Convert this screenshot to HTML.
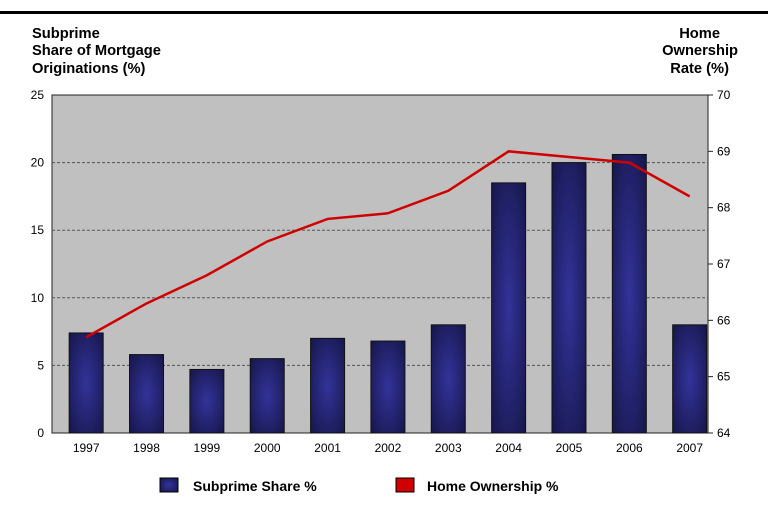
<!DOCTYPE html>
<html><head><meta charset="utf-8"><style>
body{margin:0;background:#fff;width:768px;height:512px;overflow:hidden;font-family:"Liberation Sans",Arial,sans-serif}
</style></head><body>
<svg id="c" width="768" height="512" xmlns="http://www.w3.org/2000/svg" font-family="Liberation Sans, Arial, sans-serif">
<defs>
<radialGradient id="bg" cx="50%" cy="50%" r="70%">
<stop offset="0%" stop-color="#33339a"/><stop offset="100%" stop-color="#16164a"/>
</radialGradient>
</defs>
<rect x="0" y="11" width="768" height="3" fill="#000"/>
<g font-weight="bold" font-size="14.7" fill="#000">
<text x="32" y="38">Subprime</text>
<text x="32" y="55">Share of Mortgage</text>
<text x="32" y="73">Originations (%)</text>
<text x="720" y="38" text-anchor="end">Home</text>
<text x="738" y="55" text-anchor="end">Ownership</text>
<text x="729" y="73" text-anchor="end">Rate (%)</text>
</g>
<rect x="52" y="95" width="656" height="338" fill="#c0c0c0" stroke="#222" stroke-width="1"/>
<g id="grid"></g><g id="bars"></g><g id="line"></g><g id="ticks" font-size="12" fill="#000"></g>
<rect x="160" y="478" width="18" height="14" fill="url(#bg)" stroke="#000"/>
<text x="193" y="491" font-size="14" font-weight="bold">Subprime Share %</text>
<rect x="396" y="478" width="18" height="14" fill="#d00000" stroke="#000"/>
<text x="427" y="491" font-size="14" font-weight="bold">Home Ownership %</text>
</svg>
<script>
const years=["1997","1998","1999","2000","2001","2002","2003","2004","2005","2006","2007"];
const subprime=[7.4,5.8,4.7,5.5,7.0,6.8,8.0,18.5,20.0,20.6,8.0];
const ownership=[65.7,66.3,66.8,67.4,67.8,67.9,68.3,69.0,68.9,68.8,68.2];
const leftTicks=[0,5,10,15,20,25];
const rightTicks=[64,65,66,67,68,69,70];
const NS="http://www.w3.org/2000/svg";
const yTop=95,yBot=433;
const yL=v=>yBot-(v/25)*(yBot-yTop);
const yR=v=>yBot-((v-64)/6)*(yBot-yTop);
const xC=i=>56+60.35*(i+0.5);
function mk(t,a,p){const e=document.createElementNS(NS,t);for(const k in a)e.setAttribute(k,a[k]);document.getElementById(p).appendChild(e);return e;}
leftTicks.forEach(v=>{
 if(v>0&&v<25){const g=mk('line',{x1:52,x2:708,y1:yL(v),y2:yL(v),stroke:'#555','stroke-dasharray':'3,2'},'grid');
 
 }
 const t=mk('text',{x:44,y:yL(v)+4,'text-anchor':'end'},'ticks');t.textContent=v;
 
 
});
rightTicks.forEach(v=>{
 mk('line',{x1:708,x2:713,y1:yR(v),y2:yR(v),stroke:'#222'},'ticks');
 const t=mk('text',{x:717,y:yR(v)+4},'ticks');t.textContent=v;
 
 
});
years.forEach((y,i)=>{
 const b=mk('rect',{x:xC(i)-17,y:yL(subprime[i]),width:34,height:yBot-yL(subprime[i]),fill:'url(#bg)',stroke:'#111'},'bars');
 
 
 const t=mk('text',{x:xC(i),y:452,'text-anchor':'middle'},'ticks');t.textContent=y;
 
 
});
const pl=mk('polyline',{points:ownership.map((v,i)=>xC(i)+','+yR(v)).join(' '),fill:'none',stroke:'#d00000','stroke-width':2.5},'line');


</script>
</body></html>
